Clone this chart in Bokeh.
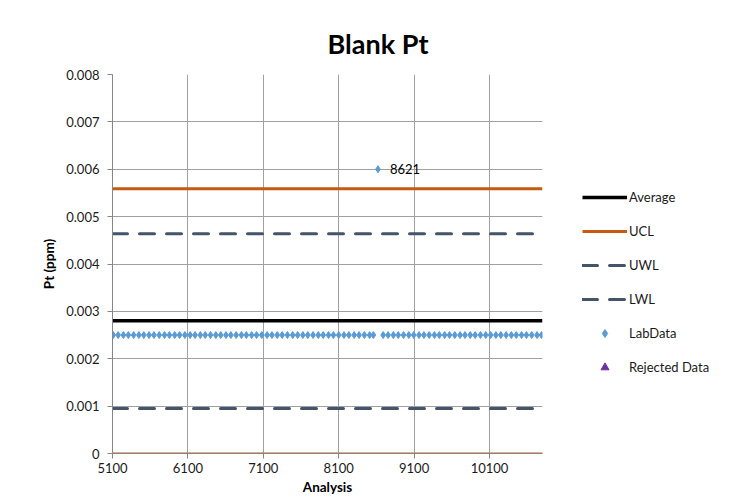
from bokeh.plotting import figure
from bokeh.models import (Range1d, FixedTicker, CustomJSTickFormatter, Legend, LegendItem)
from bokeh.core.properties import value
from bokeh.embed import file_html
from bokeh.resources import INLINE

# ---- data ----
title_text = "Blank Pt"
x_label = "Analysis"
y_label = "Pt (ppm)"
x_ticks = [5100, 6100, 7100, 8100, 9100, 10100]
y_ticks = [0, 0.001, 0.002, 0.003, 0.004, 0.005, 0.006, 0.007, 0.008]

average = 0.0028
ucl = 0.00559
uwl = 0.00464
lwl = 0.00095
lcl = 0.0

lab_x = [5110, 5175, 5245, 5310, 5380, 5450, 5515, 5585, 5650, 5720, 5790, 5855, 5925,
         5990, 6060, 6130, 6195, 6265, 6330, 6400, 6470, 6535, 6605, 6670, 6740, 6810,
         6875, 6945, 7010, 7080, 7150, 7215, 7285, 7350, 7420, 7490, 7555, 7625, 7690,
         7760, 7830, 7895, 7965, 8030, 8100, 8170, 8235, 8305, 8370, 8440, 8510, 8560,
         8621,
         8690, 8755, 8825, 8890, 8960, 9030, 9095, 9165, 9230, 9300, 9370, 9435, 9505,
         9570, 9640, 9710, 9775, 9845, 9910, 9980, 10050, 10115, 10185, 10250, 10320,
         10390, 10455, 10525, 10590, 10660, 10730, 10790]
lab_y = [0.0025] * 52 + [0.006] + [0.0025] * 32
outlier_x = [8621]
outlier_y = [0.006]
outlier_label = ["8621"]
# no rejected data points (placeholder so the legend entry is drawn)
rejected_x = [float("nan")]
rejected_y = [float("nan")]

x_start = 5100
x_end = 10803

FONT = "Lato"

p = figure(width=724, height=491, output_backend="svg", toolbar_location=None,
           x_range=Range1d(x_start, x_end), y_range=Range1d(0, 0.008),
           frame_width=430, frame_height=379, min_border_left=112, min_border_top=74,
           min_border_right=182, min_border_bottom=38)
p.outline_line_color = None
p.background_fill_color = "white"
p.border_fill_color = "white"

p.title.text = title_text
p.title.align = "left"
p.title.offset = 215
p.title.text_font = FONT
p.title.text_font_style = "bold"
p.title.text_font_size = "27px"
p.title.text_color = "black"
p.title.standoff = 30

# axes
for ax in (p.xaxis[0], p.yaxis[0]):
    ax.axis_line_color = "#868686"
    ax.major_tick_line_color = "#868686"
    ax.major_tick_out = 5
    ax.major_tick_in = 0
    ax.minor_tick_line_color = None
    ax.major_label_text_font = FONT
    ax.major_label_text_font_size = "13px"
    ax.major_label_text_color = "#1a1a1a"
    ax.axis_label_text_font = FONT
    ax.axis_label_text_font_style = "bold"
    ax.axis_label_text_font_size = "13.5px"
    ax.axis_label_text_color = "black"

p.xaxis.ticker = FixedTicker(ticks=x_ticks)
p.yaxis.ticker = FixedTicker(ticks=y_ticks)
p.yaxis.formatter = CustomJSTickFormatter(code="return tick == 0 ? '0' : tick.toFixed(3);")
p.xaxis.axis_label = x_label
p.yaxis.axis_label = y_label
p.xaxis.major_label_standoff = 4
p.xaxis.axis_label_standoff = 3
p.yaxis.major_label_standoff = 8
p.yaxis.axis_label_standoff = 6

p.xgrid.ticker = FixedTicker(ticks=x_ticks)
p.ygrid.ticker = FixedTicker(ticks=y_ticks)
p.xgrid.grid_line_color = "#a0a0a0"
p.ygrid.grid_line_color = "#a0a0a0"

xs = [x_start, x_end]
r_avg = p.line(xs, [average] * 2, line_color="black", line_width=3.5)
r_ucl = p.line(xs, [ucl] * 2, line_color="#c55a11", line_width=3)
r_uwl = p.line(xs, [uwl] * 2, line_color="#44546a", line_width=3, line_dash="15 12",
               line_cap="round")
r_lwl = p.line(xs, [lwl] * 2, line_color="#44546a", line_width=3, line_dash="15 12",
               line_cap="round")
r_lcl = p.line(xs, [lcl] * 2, line_color="#c55a11", line_width=2)
r_lab = p.scatter(lab_x, lab_y, marker="diamond", size=7, fill_color="#5b9bd5",
                  line_color="#5b9bd5")
r_rej = p.scatter(rejected_x, rejected_y, marker="triangle", size=8, fill_color="#7030a0",
                  line_color="#7030a0")

p.text(outlier_x, outlier_y, text=outlier_label, x_offset=12, text_font=value(FONT),
       text_font_size="13px", text_color="black", text_baseline="middle")

legend = Legend(items=[
    LegendItem(label="Average", renderers=[r_avg]),
    LegendItem(label="UCL", renderers=[r_ucl]),
    LegendItem(label="UWL", renderers=[r_uwl]),
    LegendItem(label="LWL", renderers=[r_lwl]),
    LegendItem(label="LabData", renderers=[r_lab]),
    LegendItem(label="Rejected Data", renderers=[r_rej]),
], location=(40, 76), glyph_width=45, glyph_height=20, label_height=20,
    label_standoff=2, spacing=14, padding=0, margin=0,
    label_text_font=FONT, label_text_font_size="13px", label_text_color="#1a1a1a",
    border_line_color=None, background_fill_alpha=0)
p.add_layout(legend, "right")

open("out.html", "w").write(file_html(p, INLINE))
